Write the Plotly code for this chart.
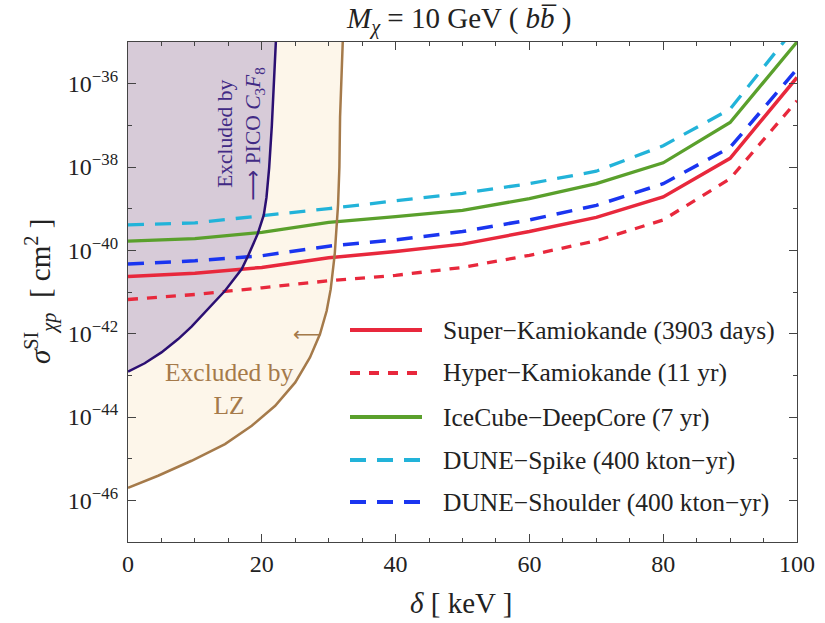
import plotly.graph_objects as go

# ---------------- data ----------------
delta_keV = [0, 10, 20, 30, 40, 50, 60, 70, 80, 90, 100]

super_k = [2.34e-41, 2.82e-41, 3.89e-41, 6.61e-41, 9.33e-41, 1.41e-40, 2.82e-40, 6.17e-40, 1.91e-39, 1.62e-38, 1.41e-36]
hyper_k = [6.61e-42, 8.71e-42, 1.26e-41, 1.86e-41, 2.51e-41, 3.89e-41, 7.59e-41, 1.70e-40, 5.37e-40, 5.25e-39, 3.89e-37]
icecube = [1.66e-40, 1.91e-40, 2.69e-40, 4.68e-40, 6.46e-40, 9.12e-40, 1.74e-39, 3.98e-39, 1.26e-38, 1.17e-37, 1.0e-35]
dune_spike = [4.07e-40, 4.57e-40, 6.76e-40, 1.0e-39, 1.55e-39, 2.34e-39, 3.98e-39, 7.94e-39, 3.24e-38, 2.45e-37, 2.51e-35]
dune_shoulder = [4.68e-41, 5.62e-41, 7.41e-41, 1.26e-40, 1.78e-40, 2.82e-40, 5.37e-40, 1.20e-39, 3.98e-39, 2.95e-38, 2.24e-36]

series_names = [
    "Super\u2212Kamiokande (3903 days)",
    "Hyper\u2212Kamiokande (11 yr)",
    "IceCube\u2212DeepCore (7 yr)",
    "DUNE\u2212Spike (400 kton\u2212yr)",
    "DUNE\u2212Shoulder (400 kton\u2212yr)",
]

pico_delta = [0, 2.5, 5.0, 7.5, 9.5, 11.5, 13.3, 14.5, 17.0, 17.9, 19.4, 20.3, 20.7, 21.1, 21.5, 21.8, 22.1]
pico_sigma = [1.23e-43, 1.95e-43, 3.55e-43, 7.41e-43, 1.48e-42, 3.24e-42, 6.76e-42, 1.07e-41,
              3.55e-41, 7.08e-41, 2.51e-40, 7.08e-40, 1.86e-39, 9.55e-39, 9.77e-38, 1.0e-36, 1.0e-35]

lz_delta = [0, 4.5, 9.5, 14.5, 18.5, 22.0, 25.0, 27.2, 28.7, 29.7, 30.3, 30.9, 31.4, 31.6, 31.7, 32.1]
lz_sigma = [2.0e-46, 3.89e-46, 8.91e-46, 2.24e-45, 6.17e-45, 1.86e-44, 6.76e-44, 2.69e-43,
            9.77e-43, 3.55e-42, 1.17e-41, 7.94e-41, 1.26e-39, 1.0e-38, 1.58e-37, 1.0e-35]

x_ticks = [0, 20, 40, 60, 80, 100]
y_tick_exps = [-46, -44, -42, -40, -38, -36]
y_minor_exps = [-47, -45, -43, -41, -39, -37, -35]
y_top = 1e-35

# ---------------- styles ----------------
FONT = "Liberation Serif"
colors = ["#e8283c", "#e8283c", "#5aa02c", "#22b3d9", "#1a35f0"]
dashes = ["solid", "10px,9px", "solid", "16px,11px", "16px,11px"]
widths = [3.5, 3.3, 3.3, 3.3, 3.5]
series = [super_k, hyper_k, icecube, dune_spike, dune_shoulder]

PICO_FILL = "#d7cbd8"
PICO_LINE = "#2b0f72"
LZ_FILL = "#fdf6ea"
LZ_LINE = "#a57a4a"

fig = go.Figure()

# LZ excluded region
fig.add_trace(go.Scatter(
    x=lz_delta + [0], y=lz_sigma + [y_top],
    fill="toself", fillcolor=LZ_FILL, mode="lines",
    line=dict(width=0, color=LZ_FILL),
    hoverinfo="skip", showlegend=False))
# PICO excluded region
fig.add_trace(go.Scatter(
    x=pico_delta + [0], y=pico_sigma + [y_top],
    fill="toself", fillcolor=PICO_FILL, mode="lines",
    line=dict(width=0, color=PICO_FILL),
    hoverinfo="skip", showlegend=False))

# experiment curves
for name, vals, c, d, w in zip(series_names, series, colors, dashes, widths):
    fig.add_trace(go.Scatter(
        x=delta_keV, y=vals, mode="lines", name=name,
        line=dict(color=c, dash=d, width=w), showlegend=False))

# boundaries
fig.add_trace(go.Scatter(x=pico_delta, y=pico_sigma, mode="lines",
                         line=dict(color=PICO_LINE, width=2.5),
                         hoverinfo="skip", showlegend=False))
fig.add_trace(go.Scatter(x=lz_delta, y=lz_sigma, mode="lines",
                         line=dict(color=LZ_LINE, width=2.5),
                         hoverinfo="skip", showlegend=False))

# ---------------- manual legend ----------------
PL, PR, PT, PB = 128, 797, 42, 542
def px2paper(px, py):
    return (px - PL) / (PR - PL), (PB - py) / (PB - PT)

legend_rows = [330, 373, 417, 460, 502]
for name, c, d, w, ry in zip(series_names, colors, dashes, widths, legend_rows):
    x0, yy = px2paper(350, ry)
    x1, _ = px2paper(422, ry)
    fig.add_shape(type="line", xref="paper", yref="paper", x0=x0, x1=x1, y0=yy, y1=yy,
                  line=dict(color=c, width=w + 0.5, dash=d))
    tx, _ = px2paper(441, ry)
    fig.add_annotation(xref="paper", yref="paper", x=tx, y=yy, xanchor="left", yanchor="middle",
                       text=name, showarrow=False, font=dict(family=FONT, size=25.5, color="#222"))

# ---------------- region labels ----------------
fig.add_annotation(x=16.7, y=-37.2, xref="x", yref="y", textangle=-90, showarrow=False,
                   text="Excluded by<br><span style='font-family:DejaVu Sans'>\u27f6</span> PICO "
                        "<i>C</i><sub>3</sub><i>F</i><sub>8</sub>",
                   font=dict(family=FONT, size=21.5, color="#412a85"), align="center")
fig.add_annotation(x=15.1, y=-43.32, xref="x", yref="y", showarrow=False,
                   text="Excluded by<br>LZ", align="center",
                   font=dict(family=FONT, size=25.5, color="#a57a4a"))
fig.add_annotation(x=26.9, y=-42.0, xref="x", yref="y", showarrow=False,
                   text="\u27f5", font=dict(family="DejaVu Sans", size=20, color="#a57a4a"))

# ---------------- titles ----------------
tx, ty = px2paper(459, 21)
fig.add_annotation(xref="paper", yref="paper", x=tx, y=ty, xanchor="center", yanchor="middle",
                   showarrow=False,
                   text="<i>M<sub>\u03c7</sub></i> = 10 GeV ( <i>b</i><i>b\u0305</i> )",
                   font=dict(family=FONT, size=29, color="#222"))
tx, ty = px2paper(461, 603)
fig.add_annotation(xref="paper", yref="paper", x=tx, y=ty, xanchor="center", yanchor="middle",
                   showarrow=False, text="<i>\u03b4</i> [ keV ]",
                   font=dict(family=FONT, size=29, color="#222"))
tx, ty = px2paper(40, 292)
fig.add_annotation(xref="paper", yref="paper", x=tx, y=ty, xanchor="center", yanchor="middle",
                   showarrow=False, textangle=-90,
                   text="<i>\u03c3</i><sup>SI</sup><sub><i>\u03c7p</i></sub>  [ cm<sup>2</sup> ]",
                   font=dict(family=FONT, size=29, color="#222"))

# ---------------- axes ----------------
fig.update_xaxes(range=[0, 100], tickvals=x_ticks, ticktext=[str(v) for v in x_ticks],
                 ticks="inside", ticklen=8, tickwidth=1.2, tickcolor="#444",
                 minor=dict(dtick=5, tick0=0, ticks="inside", ticklen=4, tickcolor="#444"),
                 showline=True, linecolor="#444", linewidth=1.3, mirror="ticks",
                 showgrid=False, zeroline=False, ticklabelstandoff=0,
                 tickfont=dict(family=FONT, size=24, color="#222"))
fig.update_yaxes(type="log", range=[-47, -35],
                 tickvals=[10.0 ** e for e in y_tick_exps],
                 ticktext=["10<sup>\u2212%d</sup>" % (-e) for e in y_tick_exps],
                 ticks="inside", ticklen=8, tickwidth=1.2, tickcolor="#444",
                 minor=dict(tickmode="array", tickvals=[10.0 ** e for e in y_minor_exps],
                            ticks="inside", ticklen=4, tickcolor="#444"),
                 showline=True, linecolor="#444", linewidth=1.3, mirror="ticks",
                 showgrid=False, zeroline=False, ticklabelstandoff=4,
                 tickfont=dict(family=FONT, size=24, color="#222"))

fig.update_layout(width=825, height=623,
                  margin=dict(l=PL, r=825 - PR, t=PT, b=623 - PB, autoexpand=False),
                  plot_bgcolor="white", paper_bgcolor="white", showlegend=False,
                  font=dict(family=FONT, color="#222"))

fig.write_html("out.html", config={"displayModeBar": False},
               post_script="document.body.style.margin='0px';")
